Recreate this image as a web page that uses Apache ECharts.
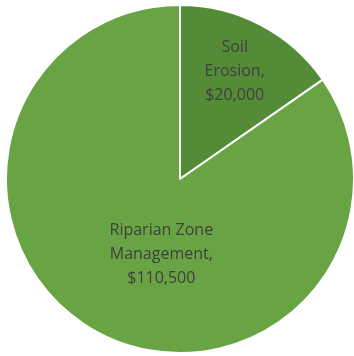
<!DOCTYPE html>
<html><head><meta charset="utf-8">
<script src="https://cdn.jsdelivr.net/npm/echarts@6/dist/echarts.min.js"></script>
<style>html,body{margin:0;padding:0;background:#fff}#c{width:354px;height:356px}</style>
</head><body><div id="c"></div>
<script>
const categories = ['Soil\nErosion', 'Riparian Zone\nManagement'];
const values = [20000, 110500];
const colors = ['#548B37', '#68A443'];
const labelShift = [[13, -28], [23, -4]];

const chart = echarts.init(document.getElementById('c'), null, {renderer: 'canvas'});
chart.setOption({
  animation: false,
  series: [{
    type: 'pie',
    center: [180, 179],
    radius: 174,
    startAngle: 90,
    clockwise: true,
    data: categories.map((c, i) => ({name: c, value: values[i], itemStyle: {color: colors[i]}})),
    itemStyle: {borderColor: '#fff', borderWidth: 2},
    label: {
      position: 'inside',
      formatter: p => p.name + ',\n$' + p.value.toLocaleString('en-US'),
      color: '#404040',
      fontFamily: 'Open Sans',
      fontSize: 16,
      lineHeight: 24,
      align: 'center'
    },
    labelLine: {show: false},
    labelLayout: p => ({dx: labelShift[p.dataIndex][0], dy: labelShift[p.dataIndex][1]}),
    emphasis: {disabled: true}
  }]
});
</script></body></html>
